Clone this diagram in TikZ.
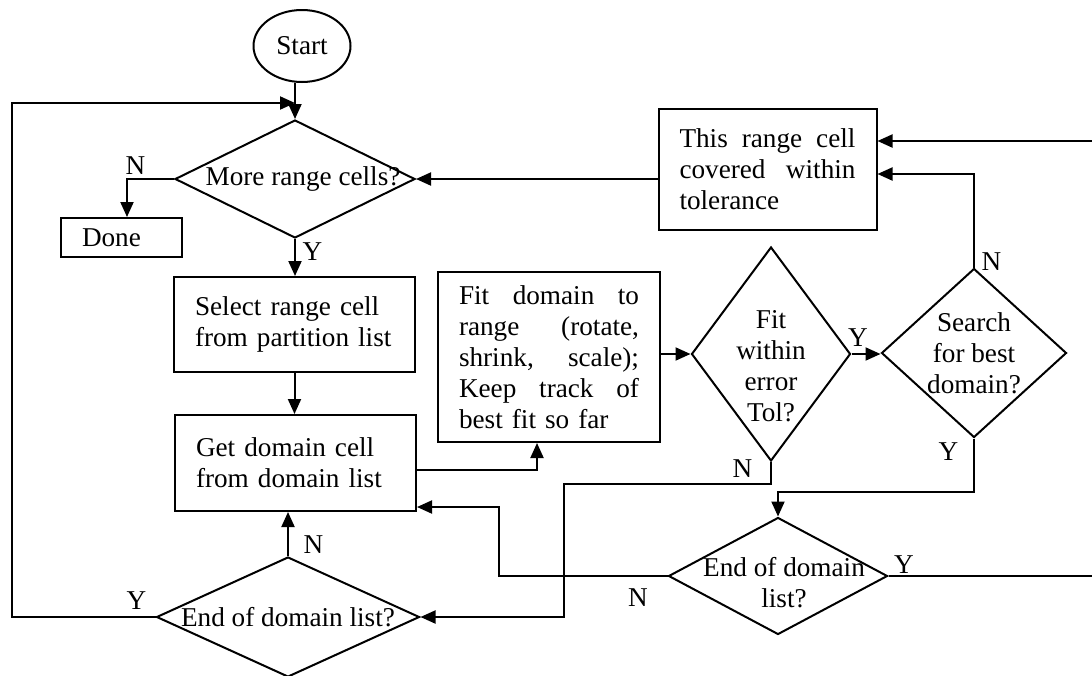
\documentclass[tikz,border=0pt]{standalone}
\usepackage{fontspec}
\setmainfont{Liberation Serif}
\usepackage{tikz}
\usetikzlibrary{shapes.geometric,arrows.meta}
\newcommand{\jl}[2]{\makebox[#1]{#2}}

\begin{document}
\begin{tikzpicture}[x=0.5pt, y=-0.5pt, font=\fontsize{13.6}{15.5}\selectfont,
  box/.style={draw, line width=1pt, rectangle, align=left, inner xsep=10.5pt, inner ysep=0pt},
  dec/.style={draw, line width=1pt, diamond, inner sep=0pt},
  arr/.style={line width=1pt, -{Triangle[length=7.5pt,width=6.5pt]}}]
  \useasboundingbox (0,0) rectangle (1092,675);

  \node[draw, line width=1pt, ellipse, inner sep=0pt, minimum width=48.5pt, minimum height=36pt] (start) at (302,46) {Start};
  \node[dec, minimum width=120pt, minimum height=59pt, label={[xshift=4pt]center:More range cells?}] (more) at (295,179) {};
  \node[box, text width=39.5pt, minimum height=19.5pt] (done) at (121.5,237.5) {Done};
  \node[box, text width=99.5pt, minimum height=47.5pt] (select) at (294.5,324.5) {\mbox{Select range cell}\\\mbox{from partition list}};
  \node[box, text width=99.5pt, minimum height=48pt] (get) at (295.5,463) {\mbox{Get domain cell}\\\mbox{from domain list}};
  \node[box, text width=90pt, minimum height=85pt] (fit) at (549,357)
    {\jl{90pt}{Fit\hfill domain\hfill to}\\\jl{90pt}{range\hfill (rotate,}\\\jl{90pt}{shrink,\hfill scale);}\\\jl{90pt}{Keep\hfill track\hfill of}\\best fit so far};
  \node[box, text width=88pt, minimum height=60.5pt] (cover) at (767.5,169.5)
    {\jl{88pt}{This\hfill range\hfill cell}\\\jl{88pt}{covered\hfill within}\\tolerance};
  \node[dec, minimum width=79.5pt, minimum height=107pt, label={[align=center, yshift=-6pt]center:Fit\\within\\error\\Tol?}] (fitq) at (771,354) {};
  \node[dec, minimum width=92.5pt, minimum height=84.5pt, label={[align=center]center:Search\\for best\\domain?}] (search) at (974,353) {};
  \node[dec, minimum width=109.5pt, minimum height=58.5pt, label={[align=center, xshift=3pt, yshift=-3.5pt]center:End of domain\\list?}] (endr) at (778,576) {};
  \node[dec, minimum width=131.5pt, minimum height=60pt, label={center:End of domain list?}] (endl) at (288,617) {};

  \coordinate (lft) at (12,103);
  \coordinate (jn) at (564,484);
  \coordinate (jg) at (499,507);
  \path (endr.north) ++(0,-25) coordinate (jy);

  \draw[arr] (more.north |- start.south) -- (more.north);
  \draw[arr] (more.west) -| node[pos=0.41, above, inner sep=2pt] {N} ([xshift=2.75pt]done.north);
  \draw[arr] (more.south) -- node[pos=0.33, right] {Y} (more.south |- select.north);
  \draw[arr] (select.south) -- (select.south |- get.north);
  \draw[arr] ([yshift=-3.5pt]get.east) -| ([xshift=-6pt]fit.south);
  \draw[arr] (fit.east |- fitq.west) -- (fitq.west);
  \draw[arr] (fitq.east) -- node[pos=0.22, above] {Y} (fitq.east -| search.west);
  \draw[arr] (search.north) |- node[pos=0, right, yshift=3pt] {N} ([yshift=-2.25pt]cover.east);
  \draw[arr] (cover.west |- more.east) -- (more.east);
  \draw[arr] (fitq.south) |- node[pos=0.16, left, xshift=-5.5pt] {N} (jn) |- (endl.east);
  \draw[arr] (search.south) |- node[pos=0.125, left, xshift=-4pt] {Y} (jy) -- (endr.north);
  \draw[arr] (endr.west) -| node[pos=0.088, below, yshift=-2.5pt] {N} (jg) -- (get.east |- jg);
  \draw[arr] (endr.east) -- node[pos=0.07, above, yshift=-2.5pt] {Y} ++(220,0) |- ([yshift=14.25pt]cover.east);
  \draw[arr] (endl.north) -- node[pos=0.26, right, xshift=4pt] {N} (endl.north |- get.south);
  \draw[arr] (endl.west) -| node[pos=0.066, above] {Y} (lft) -- (more.north |- lft);
\end{tikzpicture}
\end{document}
